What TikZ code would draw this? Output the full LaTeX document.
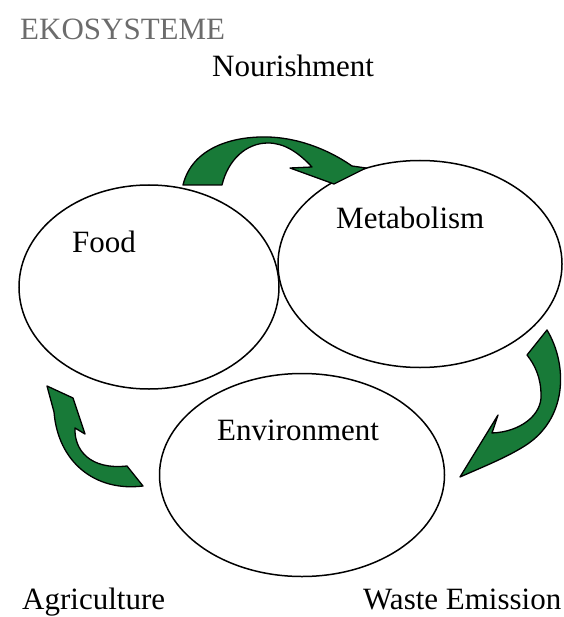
\documentclass[tikz,border=0pt]{standalone}
\usepackage{fontspec}
\setmainfont{Liberation Serif}
\usetikzlibrary{shapes.geometric}
\definecolor{leafgreen}{RGB}{24,122,56}
\definecolor{titlegray}{RGB}{108,108,108}

\begin{document}
\begin{tikzpicture}[x=1pt, y=-1pt,
  bubble/.style={ellipse, draw, line width=1.5pt, inner sep=0pt},
  word/.style={anchor=base west, inner sep=0pt, font=\fontsize{31}{36}\selectfont},
  bentarrow/.style={fill=leafgreen, draw=black, line width=1.3pt, line join=round}]
\useasboundingbox (0,0) rectangle (563,617);

\node[name=food, bubble, minimum width=260, minimum height=204] at (149,287) {};
\node[name=metabolism, bubble, minimum width=284, minimum height=207] at (420,264) {};
\node[name=environment, bubble, minimum width=285, minimum height=203] at (302,475) {};

\node[name=title, word, text=titlegray] at (20,40) {EKOSYSTEME};
\node[name=nourishment, word] at (212,77) {Nourishment};
\node[name=food_text, word] at (72,252) {Food};
\node[name=metabolism_text, word] at (336,229) {Metabolism};
\node[name=environment_text, word] at (217,440) {Environment};
\node[name=agriculture, word] at (22,609) {Agriculture};
\node[name=waste, word] at (363,609) {Waste Emission};

% nourishment: food -> metabolism
\draw[bentarrow] (183,185) .. controls (192,148) and (232,136) .. (268,137)
  .. controls (302,138) and (332,152) .. (352,166)
  -- (366,168) -- (334,184) -- (290,168) -- (312,167)
  .. controls (298,152) and (284,143) .. (268,143)
  .. controls (246,143) and (228,160) .. (222,185) -- cycle;

% waste emission: metabolism -> environment
\draw[bentarrow] (547,330) .. controls (568,365) and (568,420) .. (523,447)
  .. controls (505,458) and (485,466) .. (460,477)
  -- (498,415) -- (492,433)
  .. controls (520,432) and (542,415) .. (541,395)
  .. controls (541,378) and (535,365) .. (527,355) -- cycle;

% agriculture: environment -> food
\draw[bentarrow] (47,386) -- (73,398) -- (85,434) -- (75,428)
  .. controls (74,450) and (90,470) .. (127,466)
  -- (143,486)
  .. controls (95,492) and (58,462) .. (54,412) -- cycle;

\end{tikzpicture}
\end{document}
